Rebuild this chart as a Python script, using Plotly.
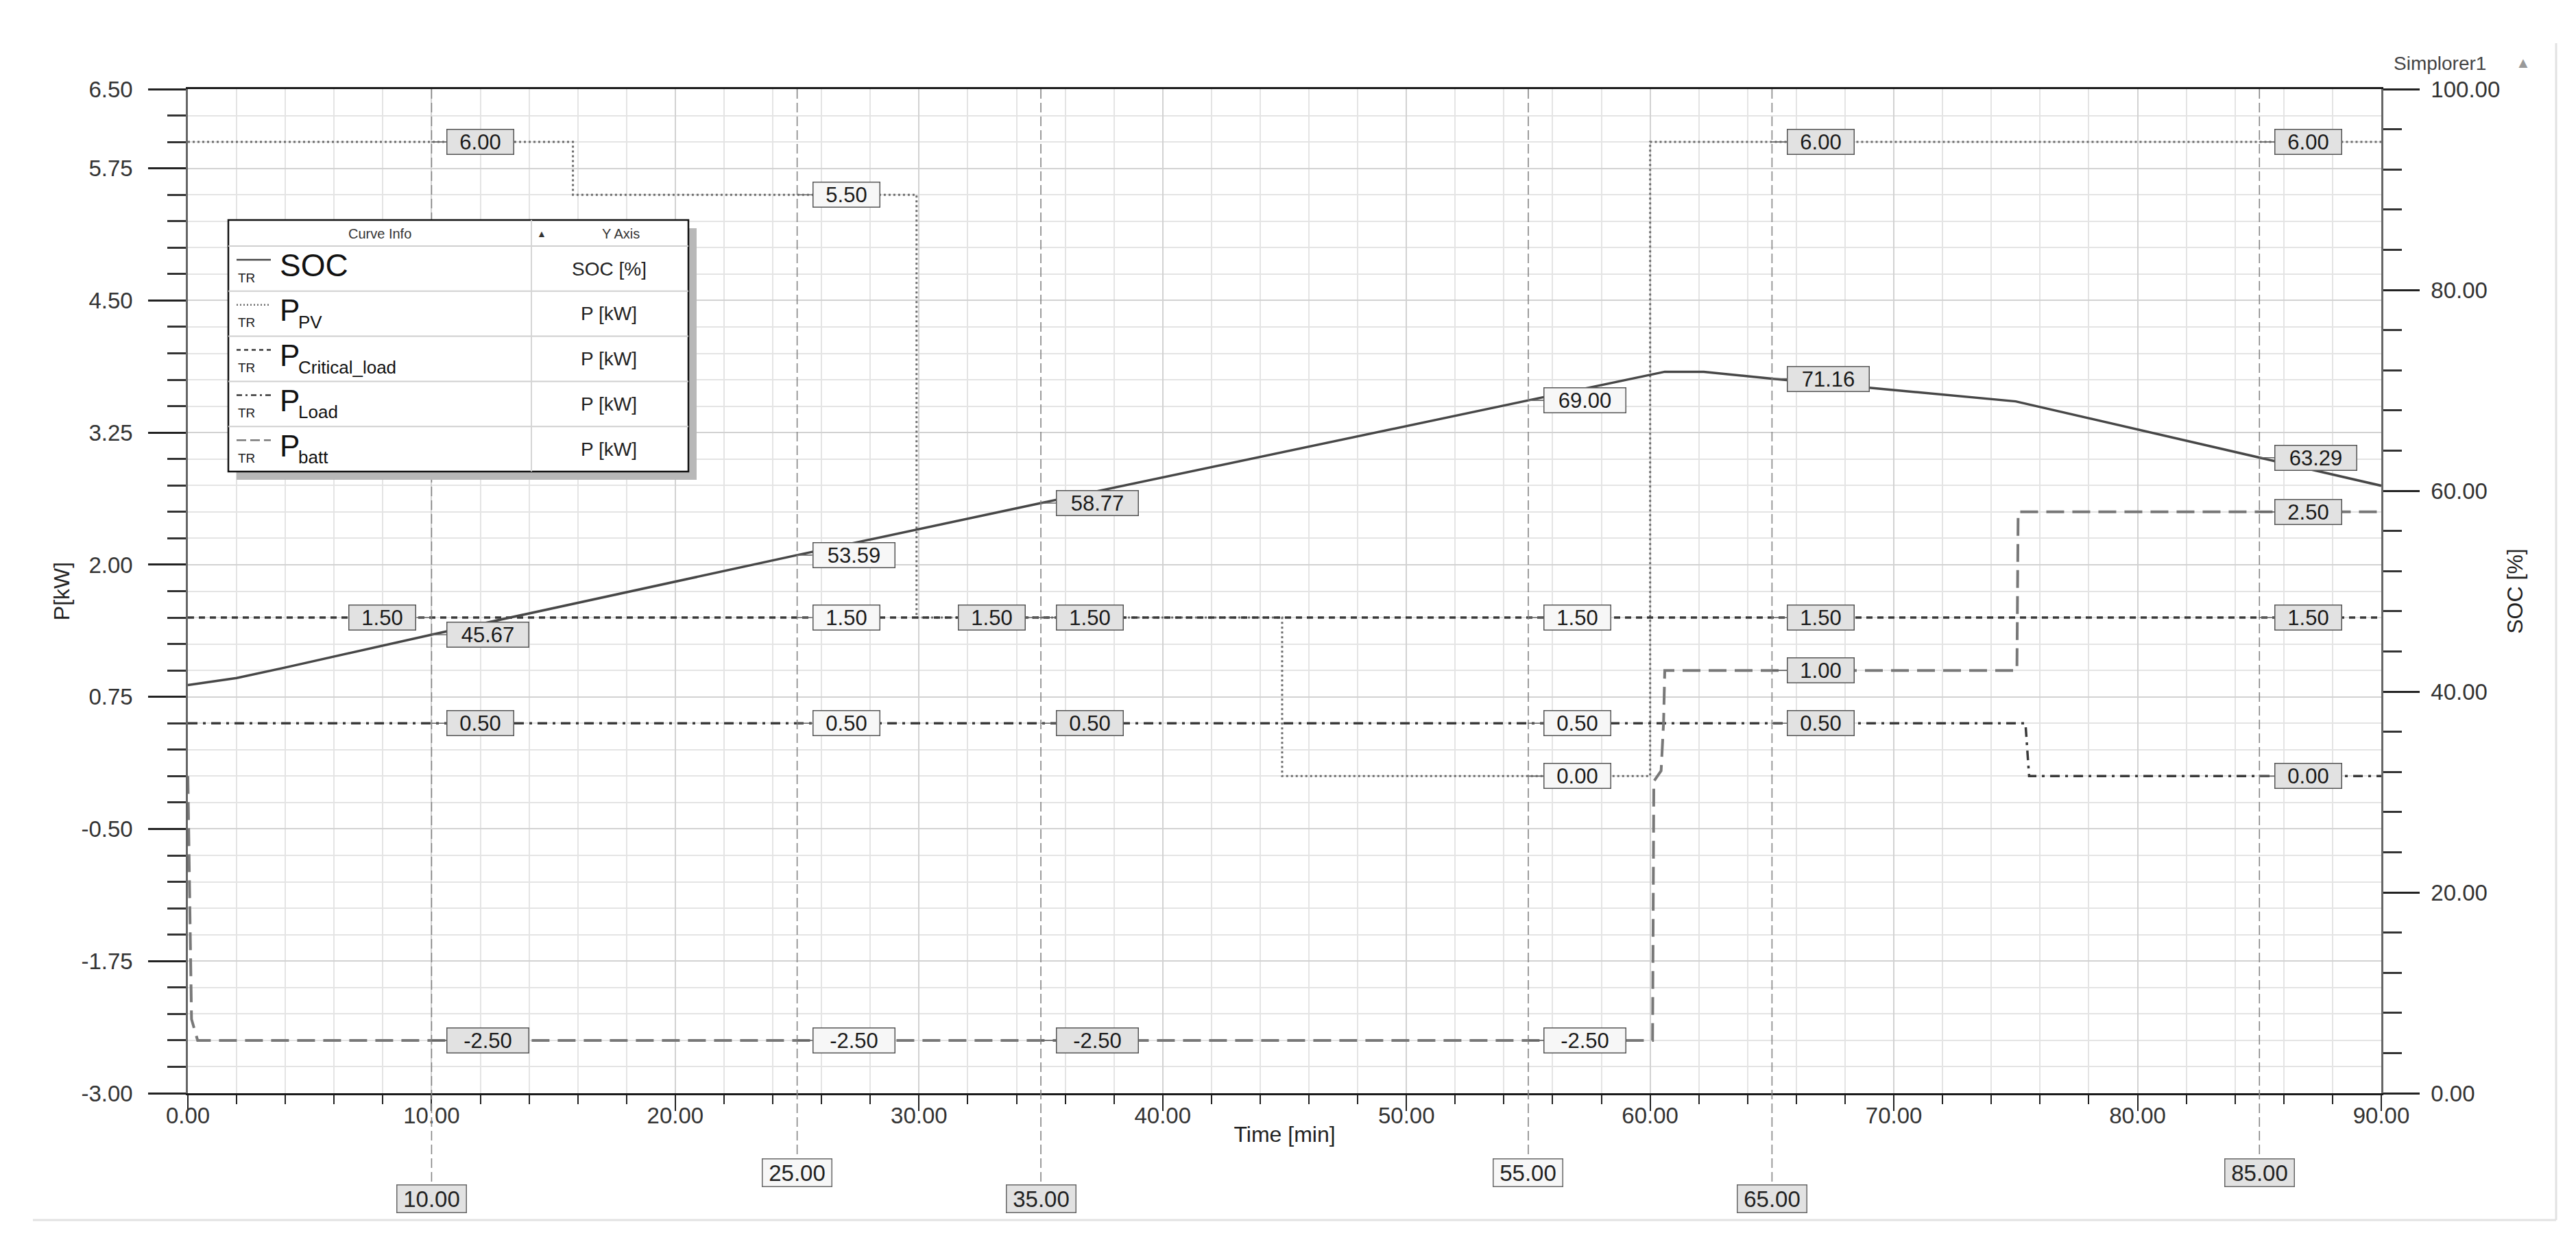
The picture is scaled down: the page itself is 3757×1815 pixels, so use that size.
import numpy as np
import plotly.graph_objects as go

# ---------------- data ----------------
soc_t = [0, 2, 4, 10, 25, 35, 55, 60, 60.6, 62.2, 65, 75, 85, 90]
soc_v = [40.65, 41.35, 42.4, 45.67, 53.59, 58.77, 69.00, 71.55, 71.85, 71.85, 71.16, 68.9, 63.29, 60.5]

pv_t = [0, 15.8, 15.8, 29.9, 29.9, 44.9, 44.9, 60.0, 60.0, 90]
pv_v = [6.0, 6.0, 5.5, 5.5, 1.5, 1.5, 0.0, 0.0, 6.0, 6.0]

crit_t = [0, 90]
crit_v = [1.5, 1.5]

load_t = [0, 75.4, 75.55, 90]
load_v = [0.5, 0.5, 0.0, 0.0]

batt_t = [0, 0.15, 0.4, 60.1, 60.15, 60.45, 60.55, 60.6, 75.05, 75.1, 90]
batt_v = [0.0, -2.3, -2.5, -2.5, -0.05, 0.05, 0.5, 1.0, 1.0, 2.5, 2.5]

cursor_times = [10, 25, 35, 55, 65, 85]
cursor_row = ["lower", "upper", "lower", "upper", "lower", "upper"]
cursor_fill = ["#e2e2e2", "#f7f7f7", "#e2e2e2", "#f7f7f7", "#e2e2e2", "#e2e2e2"]
left_labels = {(10, "crit"), (35, "pv")}

x_ticks = [0, 10, 20, 30, 40, 50, 60, 70, 80, 90]
y_ticks = [-3.0, -1.75, -0.5, 0.75, 2.0, 3.25, 4.5, 5.75, 6.5]
y2_ticks = [0, 20, 40, 60, 80, 100]

legend_main = ["SOC", "P", "P", "P", "P"]
legend_sub = ["", "PV", "Critical_load", "Load", "batt"]
legend_axis = ["SOC [%]", "P [kW]", "P [kW]", "P [kW]", "P [kW]"]

# ---------------- layout geometry ----------------
W, H = 3757, 1815
L, R, T, B = 266, 3465, 122, 1587
FONT = "Arial, 'Liberation Sans', sans-serif"


def px(x):
    return (x - L) / (R - L)


def py(y):
    return 1 - (y - T) / (B - T)


def fmt(v):
    return f"{v:.2f}"


series = [
    dict(key="soc", t=soc_t, v=soc_v, axis="y2", color="#474747", dash="solid", width=3.5),
    dict(key="pv", t=pv_t, v=pv_v, axis="y", color="#6c6c6c", dash="3px,4px", width=3),
    dict(key="crit", t=crit_t, v=crit_v, axis="y", color="#3a3a3a", dash="9px,7px", width=3.5),
    dict(key="load", t=load_t, v=load_v, axis="y", color="#3a3a3a", dash="14px,8px,4px,8px", width=3.5),
    dict(key="batt", t=batt_t, v=batt_v, axis="y", color="#787878", dash="26px,12px", width=4),
]
legend_dash = {"soc": "solid", "pv": "2px,3px", "crit": "6px,5px", "load": "8px,5px,3px,5px", "batt": "14px,6px"}

fig = go.Figure()
for s in series:
    fig.add_trace(go.Scatter(x=s["t"], y=s["v"], mode="lines", yaxis=s["axis"],
                             line=dict(color=s["color"], dash=s["dash"], width=s["width"]),
                             showlegend=False, hoverinfo="skip"))

annotations = []
shapes = []

# cursor lines and bottom labels
for ct, row, fill in zip(cursor_times, cursor_row, cursor_fill):
    ybox = 1703 if row == "upper" else 1741
    shapes.append(dict(type="line", xref="x", yref="paper", x0=ct, x1=ct,
                       y0=py(T), y1=py(ybox - 21),
                       line=dict(color="#858585", width=1.6, dash="14px,6px")))
    annotations.append(dict(x=ct, y=py(ybox), xref="x", yref="paper", text=fmt(ct),
                            showarrow=False, xanchor="center", yanchor="middle",
                            font=dict(family=FONT, size=33, color="#222"),
                            bgcolor=fill, bordercolor="#666", borderwidth=1.5, borderpad=1,
                            width=98))

# value callouts
for ct, fill in zip(cursor_times, cursor_fill):
    for s in series:
        val = float(np.interp(ct, s["t"], s["v"]))
        txt = fmt(val)
        left = (ct, s["key"]) in left_labels
        annotations.append(dict(x=ct, y=val, xref="x", yref=s["axis"], text=txt,
                                showarrow=True, ax=-22 if left else 22, ay=0,
                                arrowhead=0, arrowwidth=1.6, arrowcolor="#666", standoff=0,
                                xanchor="right" if left else "left", yanchor="middle",
                                font=dict(family=FONT, size=31, color="#1a1a1a"),
                                bgcolor=fill, bordercolor="#555", borderwidth=1.5, borderpad=0,
                                width=22 * len(txt) + 8))

annotations.append(dict(x=px(3550), y=py(85), xref="paper", yref="paper", text="Simplorer1",
                        xanchor="center", yanchor="middle",
                        showarrow=False, font=dict(family=FONT, size=28, color="#444")))
annotations.append(dict(x=px(3672), y=py(83), xref="paper", yref="paper", text="▲",
                        xanchor="center", yanchor="middle",
                        showarrow=False, font=dict(family=FONT, size=22, color="#999")))

# panel border lines
shapes.append(dict(type="line", xref="paper", yref="paper", x0=px(40), x1=px(3720), y0=py(1772), y1=py(1772),
                   line=dict(color="#e2e2e2", width=3)))
shapes.append(dict(type="line", xref="paper", yref="paper", x0=px(3720), x1=px(3720), y0=py(55), y1=py(1772),
                   line=dict(color="#e2e2e2", width=3)))

# ---------------- curve-info table ----------------
bx0, bx1, by0, by1 = 325, 996, 313, 680
shapes.append(dict(type="rect", xref="paper", yref="paper", x0=px(bx0 + 12), x1=px(bx1 + 12),
                   y0=py(by0 + 12), y1=py(by1 + 12), fillcolor="#b8b8b8", line=dict(width=0)))
shapes.append(dict(type="rect", xref="paper", yref="paper", x0=px(bx0), x1=px(bx1),
                   y0=py(by0), y1=py(by1), fillcolor="white", line=dict(color="#111", width=2.5)))
header_bottom = 351
row_h = (by1 - header_bottom) / 5
for yy in [header_bottom + row_h * i for i in range(5)]:
    shapes.append(dict(type="line", xref="paper", yref="paper", x0=px(bx0), x1=px(bx1),
                       y0=py(yy), y1=py(yy), line=dict(color="#cfcfcf", width=2)))
shapes.append(dict(type="line", xref="paper", yref="paper", x0=px(767), x1=px(767),
                   y0=py(by0), y1=py(by1), line=dict(color="#d5d5d5", width=2)))
for txt, xx, sz in [("Curve Info", 546, 20), ("▲", 782, 14), ("Y Axis", 897, 20)]:
    annotations.append(dict(x=px(xx), y=py(333), xref="paper", yref="paper", text=txt,
                            xanchor="center", yanchor="middle",
                            showarrow=False, font=dict(family=FONT, size=sz, color="#333")))
for i, (nm, sub, ax_lbl, s) in enumerate(zip(legend_main, legend_sub, legend_axis, series)):
    top = header_bottom + row_h * i
    shapes.append(dict(type="line", xref="paper", yref="paper", x0=px(337), x1=px(387),
                       y0=py(top + 20), y1=py(top + 20),
                       line=dict(color=s["color"], width=2.5, dash=legend_dash[s["key"]])))
    annotations.append(dict(x=px(337), y=py(top + 46), xref="paper", yref="paper", text="TR",
                            xanchor="left", yanchor="middle", showarrow=False,
                            font=dict(family=FONT, size=19, color="#222")))
    annotations.append(dict(x=px(398), y=py(top + 28), xref="paper", yref="paper", text=nm,
                            xanchor="left", yanchor="middle", showarrow=False,
                            font=dict(family=FONT, size=46 if i == 0 else 44, color="#111")))
    if sub:
        annotations.append(dict(x=px(425), y=py(top + 45), xref="paper", yref="paper", text=sub,
                                xanchor="left", yanchor="middle", showarrow=False,
                                font=dict(family=FONT, size=26, color="#111")))
    annotations.append(dict(x=px(880), y=py(top + 33), xref="paper", yref="paper", text=ax_lbl,
                            xanchor="center", yanchor="middle",
                            showarrow=False, font=dict(family=FONT, size=28, color="#222")))

# ---------------- axes ----------------
tickfont = dict(family=FONT, size=33, color="#333")
titlefont = dict(family=FONT, size=32, color="#222")
fig.update_layout(
    width=W, height=H,
    margin=dict(l=L, r=W - R, t=T, b=H - B, autoexpand=False),
    paper_bgcolor="white", plot_bgcolor="white",
    showlegend=False,
    font=dict(family=FONT),
    xaxis=dict(range=[0, 90], tickmode="array", tickvals=x_ticks, ticktext=[fmt(v) for v in x_ticks],
               ticks="outside", ticklen=23, tickwidth=2, tickcolor="#222",
               tickfont=tickfont, ticklabelstandoff=-22,
               title=dict(text="Time [min]", font=titlefont, standoff=0),
               showgrid=True, gridcolor="#d2d2d2", gridwidth=1.5,
               minor=dict(dtick=2, tick0=0, ticks="outside", ticklen=13, tickwidth=2, tickcolor="#222",
                          showgrid=True, gridcolor="#e4e4e4", gridwidth=1.5),
               showline=True, linecolor="#1a1a1a", linewidth=3, mirror=True, zeroline=False),
    yaxis=dict(range=[-3, 6.5], tickmode="array", tickvals=y_ticks, ticktext=[fmt(v) for v in y_ticks],
               ticks="outside", ticklen=55, tickwidth=2.5, tickcolor="#222",
               tickfont=tickfont, ticklabelstandoff=16,
               title=dict(text="P[kW]", font=titlefont, standoff=8),
               showgrid=True, gridcolor="#d2d2d2", gridwidth=1.5,
               minor=dict(dtick=0.25, tick0=-3, ticks="outside", ticklen=27, tickwidth=2.5, tickcolor="#333",
                          showgrid=True, gridcolor="#e4e4e4", gridwidth=1.5),
               showline=True, linecolor="#666", linewidth=2.5, zeroline=False),
    yaxis2=dict(range=[0, 100], overlaying="y", side="right", anchor="x",
                tickmode="array", tickvals=y2_ticks, ticktext=[fmt(v) for v in y2_ticks],
                ticks="outside", ticklen=53, tickwidth=2.5, tickcolor="#222",
                tickfont=tickfont, ticklabelstandoff=10, showgrid=False,
                title=dict(text="SOC [%]", font=titlefont, standoff=12),
                minor=dict(dtick=4, tick0=0, ticks="outside", ticklen=27, tickwidth=2.5, tickcolor="#333",
                           showgrid=False),
                showline=True, linecolor="#666", linewidth=2.5, zeroline=False),
    annotations=annotations,
    shapes=shapes,
)

fig.write_html("out.html")
